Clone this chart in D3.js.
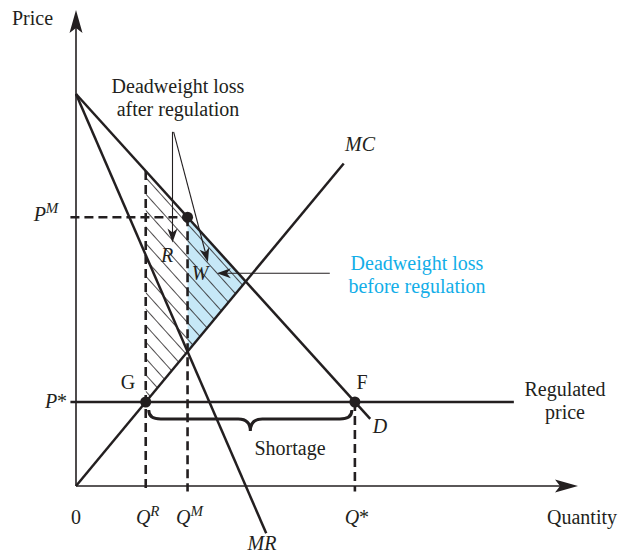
<!DOCTYPE html>
<html>
<head>
<meta charset="utf-8">
<script src="https://cdn.jsdelivr.net/npm/d3@7"></script>
<style>
  body { margin: 0; background: #fff; }
  text { font-family: "Liberation Serif", "Times New Roman", serif; font-size: 20px; fill: #231f20; }
</style>
</head>
<body>
<script>
// economic model (quantity / price units)
var demand = { intercept: 14, slope: 1.1, qEnd: 10.55 };
var mr = { intercept: 14, slope: 2.3, qEnd: 6.82 };
var mc = { slope: 1.2, qEnd: 9.6 };
var pStar = 3, qR = 2.5, qM = 4, qStar = 10, regEnd = 15.7;
var qTicks = [
  { q: 0, base: "0", sup: "" },
  { q: qR, base: "Q", sup: "R" },
  { q: qM, base: "Q", sup: "M" },
  { q: qStar, base: "Q", sup: "*" }
];
var dots = [[qM, "D"], [qR, "MC"], [qStar, "D"]];

var color_line = "#231f20";
var color_blue = "#c6e8f7";
var color_text_blue = "#12aee8";

var width = 619, height = 553;
var x = d3.scaleLinear().domain([0, 18]).range([76, 578]);
var y = d3.scaleLinear().domain([0, 17]).range([486, 10]);

function D(q) { return demand.intercept - demand.slope * q; }
function MR(q) { return mr.intercept - mr.slope * q; }
function MC(q) { return mc.slope * q; }
var qC = demand.intercept / (demand.slope + mc.slope);

var svg = d3.select("body").append("svg")
  .attr("width", width).attr("height", height);

var defs = svg.append("defs");
defs.append("pattern").attr("id", "hatch")
  .attr("patternUnits", "userSpaceOnUse")
  .attr("width", 11).attr("height", 11)
  .attr("patternTransform", "rotate(-42)")
  .append("line").attr("x1", 0).attr("y1", 0).attr("x2", 0).attr("y2", 11)
  .attr("stroke", color_line).attr("stroke-width", 1.6);

var line = d3.line().x(function(d) { return x(d[0]); }).y(function(d) { return y(d[1]); });

// shaded areas
var wPoly = [[qM, D(qM)], [qC, D(qC)], [qM, MC(qM)]];
var rPoly = [[qR, D(qR)], [qM, D(qM)], [qM, MC(qM)], [qR, MC(qR)]];
svg.append("path").attr("d", line(wPoly) + "Z").attr("fill", color_blue);
svg.append("path").attr("d", line(wPoly) + "Z").attr("fill", "url(#hatch)");
svg.append("path").attr("d", line(rPoly) + "Z").attr("fill", "url(#hatch)");

// dashed guides
var dashed = [
  [[qR, D(qR)], [qR, -0.2]],
  [[qM, D(qM)], [qM, -0.2]],
  [[qStar, pStar], [qStar, -0.2]],
  [[-0.2, D(qM)], [qM, D(qM)]]
];
svg.selectAll(".dash").data(dashed).enter().append("path")
  .attr("d", line).attr("fill", "none")
  .attr("stroke", color_line).attr("stroke-width", 2.6)
  .attr("stroke-dasharray", "9,5");

// axes
svg.append("path").attr("d", line([[0, 0], [17.6, 0]]))
  .attr("stroke", color_line).attr("stroke-width", 1.6);
svg.append("path").attr("d", line([[0, 0], [0, 16.4]]))
  .attr("stroke", color_line).attr("stroke-width", 1.6);

function arrowHead(tx, ty, ang, len, hw, notch) {
  var c = Math.cos(ang), s = Math.sin(ang);
  function pt(a, b) { return [tx - a * c - b * s, ty - a * s + b * c]; }
  var p = [pt(0, 0), pt(len, hw), pt(len - notch, 0), pt(len, -hw)];
  return "M" + p.map(function(d) { return d.join(","); }).join("L") + "Z";
}
svg.append("path").attr("d", arrowHead(x(18), y(0), 0, 23, 6.5, 5)).attr("fill", color_line);
svg.append("path").attr("d", arrowHead(x(0), y(17), -Math.PI / 2, 23, 6.5, 5)).attr("fill", color_line);

// curves
var curves = [
  [[0, D(0)], [demand.qEnd, D(demand.qEnd)]],
  [[0, MR(0)], [mr.qEnd, MR(mr.qEnd)]],
  [[0, 0], [mc.qEnd, MC(mc.qEnd)]],
  [[-0.2, pStar], [regEnd, pStar]]
];
svg.selectAll(".curve").data(curves).enter().append("path")
  .attr("d", line).attr("fill", "none")
  .attr("stroke", color_line).attr("stroke-width", 2.5);

// dots
svg.selectAll(".dot").data(dots).enter().append("circle")
  .attr("cx", function(d) { return x(d[0]); })
  .attr("cy", function(d) { return y(d[1] === "D" ? D(d[0]) : MC(d[0])); })
  .attr("r", 5.5).attr("fill", color_line);

// annotation arrows (data units)
var annot = [
  { from: [3.46, 12.65], to: [3.46, 8.7] },
  { from: [3.5, 12.65], to: [4.73, 8.0] },
  { from: [9.1, 7.6], to: [5.05, 7.6] }
];
annot.forEach(function(a) {
  var x1 = x(a.from[0]), y1 = y(a.from[1]), x2 = x(a.to[0]), y2 = y(a.to[1]);
  var ang = Math.atan2(y2 - y1, x2 - x1);
  svg.append("line").attr("x1", x1).attr("y1", y1)
    .attr("x2", x2 - 8 * Math.cos(ang)).attr("y2", y2 - 8 * Math.sin(ang))
    .attr("stroke", color_line).attr("stroke-width", 1.1);
  svg.append("path").attr("d", arrowHead(x2, y2, ang, 14, 5, 4)).attr("fill", color_line);
});

// shortage brace
var bx1 = x(qR) + 3, bx2 = x(qStar) - 3, bm = (bx1 + bx2) / 2, by = y(pStar) + 8;
svg.append("path")
  .attr("d", "M" + bx1 + "," + by +
    " Q" + bx1 + "," + (by + 9) + " " + (bx1 + 12) + "," + (by + 9) +
    " L" + (bm - 12) + "," + (by + 9) +
    " Q" + bm + "," + (by + 9) + " " + bm + "," + (by + 21) +
    " Q" + bm + "," + (by + 9) + " " + (bm + 12) + "," + (by + 9) +
    " L" + (bx2 - 12) + "," + (by + 9) +
    " Q" + bx2 + "," + (by + 9) + " " + bx2 + "," + by)
  .attr("fill", "none").attr("stroke", color_line).attr("stroke-width", 3);

// labels
function txt(tx, ty, s, anchor, opts) {
  opts = opts || {};
  var t = svg.append("text").attr("x", tx).attr("y", ty)
    .attr("text-anchor", anchor || "start").text(s);
  if (opts.italic) t.style("font-style", "italic");
  if (opts.fill) t.style("fill", opts.fill);
  return t;
}
function supLabel(tx, ty, base, sup, anchor) {
  var t = svg.append("text").attr("x", tx).attr("y", ty)
    .attr("text-anchor", anchor || "middle").style("font-style", "italic");
  t.append("tspan").text(base);
  t.append("tspan").attr("dy", sup === "*" ? 0 : -8)
    .style("font-size", sup === "*" ? "20px" : "15px")
    .style("font-style", sup === "*" ? "normal" : "italic").text(sup);
  return t;
}

txt(12, 25, "Price");
txt(617, 524, "Quantity", "end");
qTicks.forEach(function(d) {
  if (d.sup === "") txt(x(d.q), 524, d.base, "middle");
  else supLabel(x(d.q) + 2, 524, d.base, d.sup);
});
supLabel(46, 221, "P", "M");
supLabel(56, 408, "P", "*");
txt(178, 93, "Deadweight loss", "middle");
txt(178, 116, "after regulation", "middle");
txt(345, 151, "MC", "start", { italic: true });
txt(167, 262, "R", "middle", { italic: true });
txt(200, 280, "W", "middle", { italic: true });
txt(417, 270, "Deadweight loss", "middle", { fill: color_text_blue });
txt(417, 293, "before regulation", "middle", { fill: color_text_blue });
txt(128, 389, "G", "middle");
txt(362, 389, "F", "middle");
txt(565, 396, "Regulated", "middle");
txt(565, 419, "price", "middle");
txt(380, 433, "D", "middle", { italic: true });
txt(290, 455, "Shortage", "middle");
txt(262, 550, "MR", "middle", { italic: true });
</script>
</body>
</html>
